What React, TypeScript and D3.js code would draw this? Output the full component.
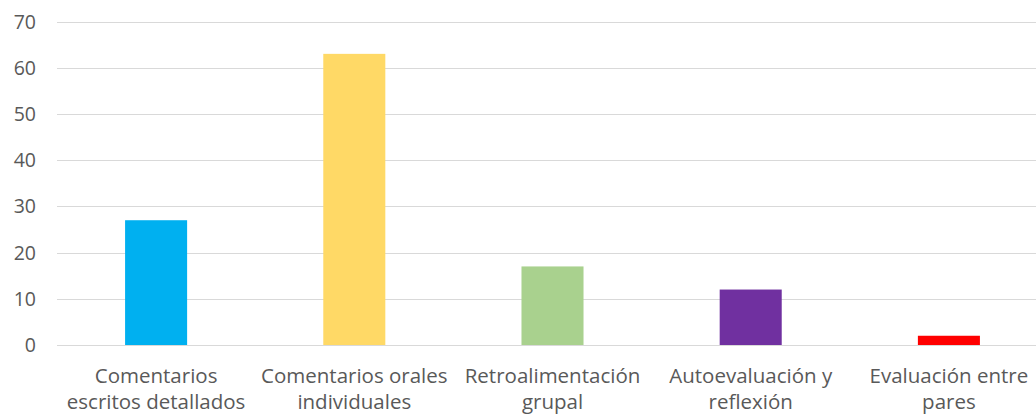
import React from "react";
import * as d3 from "d3";

const categories = [
  "Comentarios\nescritos detallados",
  "Comentarios orales\nindividuales",
  "Retroalimentación\ngrupal",
  "Autoevaluación y\nreflexión",
  "Evaluación entre\npares",
];
const values = [27, 63, 17, 12, 2];
const colors = ["#00B0F0", "#FFD966", "#A9D18E", "#7030A0", "#FF0000"];
const yTicks = [0, 10, 20, 30, 40, 50, 60, 70];

const W = 1036;
const H = 417;

export default function App() {
  const x = d3.scaleBand<string>().domain(categories).range([57, 1048]).paddingInner(0.687).paddingOuter(0.3435);
  const y = d3.scaleLinear().domain([0, 70]).range([345, 21.5]);
  const font = "Open Sans, Noto Sans, sans-serif";
  return (
    <svg width={W} height={H} style={{ position: "absolute", left: 0, top: 0, background: "#fff" }}>
      {yTicks.map((t) => (
        <g key={t}>
          <line x1={57} x2={W} y1={Math.round(y(t)) + 0.5} y2={Math.round(y(t)) + 0.5} stroke="#d9d9d9" strokeWidth={1} />
          <text x={36} y={y(t)} dy="0.36em" textAnchor="end" fontFamily={font} fontSize={19.5} fill="#595959">
            {t}
          </text>
        </g>
      ))}
      {categories.map((c, i) => (
        <rect key={c} x={x(c)} width={x.bandwidth()} y={y(values[i])} height={y(0) - y(values[i])} fill={colors[i]} />
      ))}
      {categories.map((c) => {
        const cx = (x(c) as number) + x.bandwidth() / 2;
        return (
          <text key={c} textAnchor="middle" fontFamily={font} fontSize={20.5} fill="#595959">
            {c.split("\n").map((ln, j) => (
              <tspan key={j} x={cx} y={383 + j * 26}>
                {ln}
              </tspan>
            ))}
          </text>
        );
      })}
    </svg>
  );
}
